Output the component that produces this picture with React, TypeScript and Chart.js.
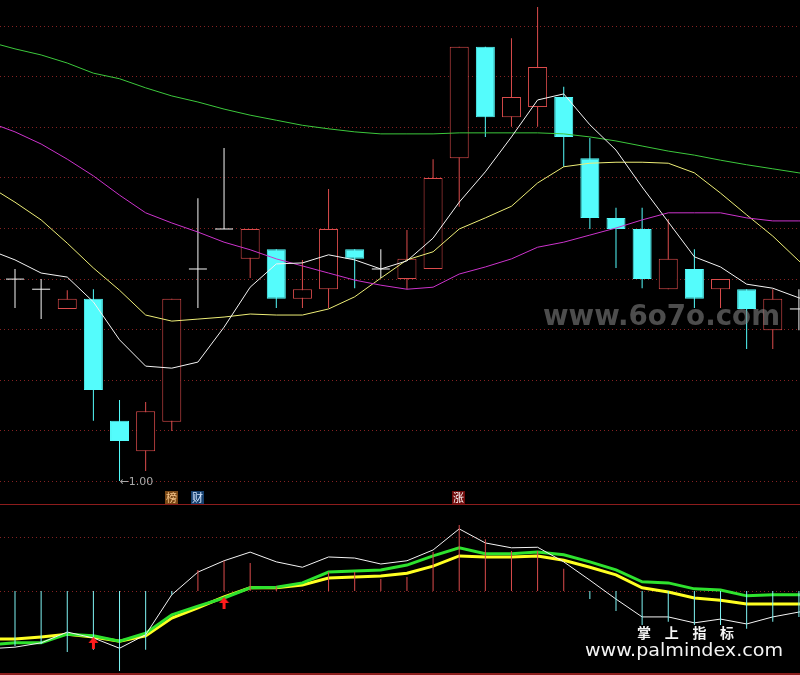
import { useEffect, useRef } from "react";
import { Chart, registerables } from "chart.js";

Chart.register(...registerables);

// ---------- daily candles (session 0 = first visible) ----------
const OPEN = [1.399, 1.379, 1.340, 1.360, 1.119, 1.059, 1.117, 1.419, 1.498, 1.439, 1.458, 1.360, 1.379, 1.458, 1.419, 1.399, 1.419, 1.638, 1.858, 1.719, 1.739, 1.759, 1.638, 1.520, 1.498, 1.379, 1.419, 1.379, 1.379, 1.298, 1.340];
const HIGH = [1.419, 1.399, 1.377, 1.379, 1.160, 1.156, 1.360, 1.559, 1.658, 1.498, 1.458, 1.437, 1.577, 1.458, 1.458, 1.496, 1.636, 1.858, 1.858, 1.875, 1.937, 1.779, 1.678, 1.540, 1.540, 1.518, 1.458, 1.399, 1.379, 1.379, 1.379];
const LOW = [1.342, 1.320, 1.340, 1.119, 1.000, 1.020, 1.099, 1.342, 1.498, 1.401, 1.342, 1.342, 1.342, 1.381, 1.401, 1.379, 1.419, 1.542, 1.680, 1.700, 1.700, 1.621, 1.498, 1.421, 1.381, 1.379, 1.342, 1.342, 1.261, 1.261, 1.298];
const CLOSE = [1.399, 1.379, 1.360, 1.180, 1.079, 1.138, 1.360, 1.419, 1.498, 1.498, 1.360, 1.379, 1.498, 1.439, 1.419, 1.439, 1.599, 1.858, 1.719, 1.759, 1.818, 1.680, 1.520, 1.498, 1.399, 1.439, 1.360, 1.399, 1.340, 1.360, 1.340];

// ---------- moving averages: sessions -1 .. 31 ----------
const MA_FIRST = -1;
const MA5 = [1.457, 1.437, 1.411, 1.403, 1.354, 1.279, 1.227, 1.223, 1.235, 1.304, 1.383, 1.429, 1.431, 1.447, 1.437, 1.419, 1.435, 1.480, 1.551, 1.611, 1.680, 1.753, 1.765, 1.704, 1.654, 1.581, 1.512, 1.443, 1.423, 1.389, 1.381, 1.362, 1.348];
const MA10 = [1.583, 1.551, 1.516, 1.470, 1.421, 1.377, 1.328, 1.316, 1.320, 1.324, 1.330, 1.328, 1.328, 1.340, 1.364, 1.401, 1.437, 1.453, 1.498, 1.520, 1.543, 1.589, 1.621, 1.628, 1.630, 1.630, 1.628, 1.609, 1.569, 1.526, 1.484, 1.435, 1.391];
const MA30 = [1.709, 1.690, 1.666, 1.636, 1.603, 1.565, 1.530, 1.510, 1.492, 1.472, 1.457, 1.439, 1.425, 1.411, 1.397, 1.387, 1.379, 1.383, 1.409, 1.423, 1.439, 1.462, 1.472, 1.486, 1.500, 1.516, 1.530, 1.530, 1.530, 1.520, 1.514, 1.514, 1.514];
const MA60 = [1.868, 1.854, 1.842, 1.826, 1.806, 1.795, 1.777, 1.761, 1.749, 1.735, 1.723, 1.713, 1.703, 1.696, 1.690, 1.686, 1.686, 1.686, 1.688, 1.688, 1.688, 1.688, 1.686, 1.680, 1.672, 1.662, 1.652, 1.644, 1.634, 1.625, 1.617, 1.609, 1.601];

// ---------- lower indicator ----------
const OSC_BAR = [-10.2, -9.8, -11.3, -10.9, -14.8, -10.9, -0.7, 3.9, 5.6, 5.2, 0.9, 0.2, 3.5, 3.5, 2.2, 2.6, 7.2, 12.2, 9.6, 7.4, 7.4, 4.1, -1.5, -3.7, -6.3, -5.7, -6.3, -6.3, -7.0, -5.7, -4.8];
// sessions -1 .. 31
const OSC_FAST = [-10.7, -10.4, -9.6, -7.6, -8.7, -10.6, -8.1, -0.7, 3.5, 5.6, 7.2, 5.4, 4.4, 6.3, 6.1, 5.0, 5.6, 7.6, 11.5, 8.9, 8.0, 8.1, 5.4, 2.0, -1.5, -4.8, -4.8, -5.9, -5.2, -6.1, -4.8, -3.9, -3.0];
const OSC_MID = [-10.0, -9.6, -9.6, -8.0, -8.3, -9.3, -7.8, -4.4, -2.8, -1.3, 0.6, 0.7, 1.5, 3.5, 3.7, 3.9, 4.8, 6.5, 8.0, 6.9, 6.9, 7.2, 6.7, 5.4, 3.9, 1.7, 1.5, 0.4, 0.2, -0.9, -0.7, -0.7, -0.7];
const OSC_SLOW = [-8.9, -8.9, -8.5, -8.0, -8.5, -9.3, -8.3, -5.0, -3.1, -1.1, 0.6, 0.6, 1.1, 2.4, 2.6, 2.8, 3.3, 4.6, 6.5, 6.3, 6.3, 6.5, 5.7, 4.4, 3.0, 0.6, -0.2, -1.3, -1.7, -2.4, -2.4, -2.4, -2.4];
const BUY_AT = [3, 8];

// ---------- event tags under the candles ----------
const TAG_TEXT = ["榜", "财", "涨"];
const TAG_AT = [6, 7, 17];

const PRICE_GRID = [1.0, 1.1, 1.2, 1.3, 1.4, 1.5, 1.6, 1.7, 1.8, 1.9];
const OSC_GRID = [0, 10];

const SITE_MARK = "www.6o7o.com";
const BRAND_TITLE = "掌 上 指 标";
const BRAND_URL = "www.palmindex.com";

// ---------- view / style ----------
const X_MIN = -0.574;
const X_MAX = 30.042;
const PRICE_MIN = 0.95455;
const PRICE_MAX = 1.95059;
const OSC_MIN = -15.556;
const OSC_MAX = 15.926;

const RED = "#dc4c4c";
const CYAN = "#54fcfc";
const WHITE = "#f6f6f6";
const GRID = "#842222";
const TAG_BG = ["#7a4816", "#16406e", "#700c0c"];
const TAG_FG = ["#f5c48a", "#d4e6ff", "#ffffff"];

const maSeries = (arr: number[]) => arr.map((v, i) => ({ x: i + MA_FIRST, y: v }));

function dottedGrid(levels: number[]) {
  return {
    id: "dottedGrid",
    beforeDatasetsDraw(chart: any) {
      const { ctx, chartArea } = chart;
      const y = chart.scales.y;
      ctx.save();
      ctx.strokeStyle = GRID;
      ctx.lineWidth = 1;
      ctx.setLineDash([1, 3]);
      for (const v of levels) {
        const py = Math.round(y.getPixelForValue(v)) + 0.5;
        ctx.beginPath();
        ctx.moveTo(chartArea.left, py);
        ctx.lineTo(chartArea.right, py);
        ctx.stroke();
      }
      ctx.restore();
    },
  };
}

const priceOverlay = {
  id: "priceOverlay",
  afterDatasetsDraw(chart: any) {
    const { ctx, chartArea } = chart;
    const xs = chart.scales.x;
    const ys = chart.scales.y;
    ctx.save();

    // lowest low marker
    let lo = 0;
    LOW.forEach((v, i) => {
      if (v < LOW[lo]) lo = i;
    });
    ctx.font = '11px "DejaVu Sans", sans-serif';
    ctx.fillStyle = "#a8a8a8";
    ctx.textBaseline = "middle";
    ctx.textAlign = "left";
    ctx.fillText("\u2190" + LOW[lo].toFixed(2), xs.getPixelForValue(lo), ys.getPixelForValue(LOW[lo]) + 1);

    // event tags
    ctx.font = '11px "Noto Sans CJK SC", sans-serif';
    ctx.textAlign = "center";
    TAG_AT.forEach((at, k) => {
      const cx = Math.round(xs.getPixelForValue(at));
      const top = chartArea.bottom - 13;
      ctx.fillStyle = TAG_BG[k];
      ctx.fillRect(cx - 7, top, 13, 13);
      ctx.fillStyle = TAG_FG[k];
      ctx.fillText(TAG_TEXT[k], cx - 0.5, top + 7);
    });

    // site mark
    ctx.font = 'bold 28px "DejaVu Sans", sans-serif';
    ctx.textAlign = "left";
    ctx.textBaseline = "alphabetic";
    ctx.fillStyle = "rgba(128,128,128,0.6)";
    const w = ctx.measureText(SITE_MARK).width;
    ctx.translate(543, 325);
    ctx.scale(237 / w, 1);
    ctx.fillText(SITE_MARK, 0, 0);
    ctx.restore();
  },
};

const brandOverlay = {
  id: "brandOverlay",
  afterDatasetsDraw(chart: any) {
    const { ctx } = chart;
    ctx.save();
    ctx.fillStyle = "#f4f4f4";
    ctx.textAlign = "left";
    ctx.textBaseline = "middle";
    ctx.font = 'bold 14px "Noto Sans CJK SC", sans-serif';
    const step = 27.7;
    if ("letterSpacing" in ctx) {
      const pair = ctx.measureText(BRAND_TITLE.slice(0, 2)).width;
      ctx.letterSpacing = (step - pair) / 2 + "px";
      ctx.fillText(BRAND_TITLE, 637, 128);
      ctx.letterSpacing = "0px";
    } else {
      BRAND_TITLE.split(" ").forEach((ch, i) => ctx.fillText(ch, 637 + i * step, 128));
    }
    ctx.font = '17px "DejaVu Sans", sans-serif';
    ctx.textBaseline = "alphabetic";
    const w = ctx.measureText(BRAND_URL).width;
    ctx.translate(585, 151);
    ctx.scale(198 / w, 1);
    ctx.fillText(BRAND_URL, 0, 0);
    ctx.restore();
  },
};

function makeArrow(): HTMLCanvasElement {
  const c = document.createElement("canvas");
  c.width = 11;
  c.height = 26;
  const g = c.getContext("2d")!;
  g.fillStyle = "#ff1c1c";
  g.beginPath();
  g.moveTo(5.5, 13);
  g.lineTo(10.5, 19);
  g.lineTo(0.5, 19);
  g.closePath();
  g.fill();
  g.fillRect(4, 19, 3, 6);
  return c;
}

const hiddenX = { type: "linear", min: X_MIN, max: X_MAX, display: false, offset: false };
const baseOptions = {
  responsive: false,
  maintainAspectRatio: false,
  animation: false,
  events: [],
  layout: { padding: 0, autoPadding: false },
  plugins: { legend: { display: false }, tooltip: { enabled: false } },
};

export default function App() {
  const topRef = useRef<HTMLCanvasElement>(null);
  const botRef = useRef<HTMLCanvasElement>(null);

  useEffect(() => {
    document.body.style.margin = "0";
    document.body.style.background = "#000";

    const idx = OPEN.map((_, i) => i);
    const dir = idx.map((i) => (CLOSE[i] > OPEN[i] ? 1 : CLOSE[i] < OPEN[i] ? -1 : 0));
    const tone = (d: number) => (d > 0 ? RED : d < 0 ? CYAN : WHITE);
    const bodyIdx = idx.filter((i) => dir[i] !== 0);
    const dojiIdx = idx.filter((i) => dir[i] === 0);

    const top = new Chart(topRef.current!, {
      type: "bar",
      data: {
        datasets: [
          {
            type: "bar",
            data: idx.map((i) => ({ x: i, y: [LOW[i], HIGH[i]] })),
            backgroundColor: idx.map((i) => tone(dir[i])),
            borderWidth: 0,
            barThickness: 1,
            grouped: false,
            inflateAmount: 0,
            order: 10,
          },
          {
            type: "bar",
            data: bodyIdx.map((i) => ({ x: i, y: [OPEN[i], CLOSE[i]] })),
            backgroundColor: bodyIdx.map((i) => (dir[i] > 0 ? "#000000" : CYAN)),
            borderColor: bodyIdx.map((i) => tone(dir[i])),
            borderWidth: 1,
            borderSkipped: false,
            barThickness: 19,
            grouped: false,
            inflateAmount: 0,
            order: 9,
          },
          {
            type: "line",
            data: dojiIdx.map((i) => ({ x: i, y: OPEN[i] })),
            showLine: false,
            pointStyle: "line",
            pointRadius: 9,
            pointBorderColor: WHITE,
            pointBorderWidth: 1,
            order: 8,
          },
          { type: "line", data: maSeries(MA10), borderColor: "#eeee77", borderWidth: 1, pointRadius: 0, tension: 0, order: 4 },
          { type: "line", data: maSeries(MA30), borderColor: "#cc33cc", borderWidth: 1, pointRadius: 0, tension: 0, order: 3 },
          { type: "line", data: maSeries(MA60), borderColor: "#3cc83c", borderWidth: 1, pointRadius: 0, tension: 0, order: 2 },
          { type: "line", data: maSeries(MA5), borderColor: "#f4f4f4", borderWidth: 1, pointRadius: 0, tension: 0, order: 1 },
        ],
      } as any,
      options: {
        ...baseOptions,
        scales: {
          x: hiddenX,
          y: { type: "linear", min: PRICE_MIN, max: PRICE_MAX, display: false, beginAtZero: false },
        },
      } as any,
      plugins: [dottedGrid(PRICE_GRID), priceOverlay],
    });

    const arrow = makeArrow();
    const bot = new Chart(botRef.current!, {
      type: "bar",
      data: {
        datasets: [
          { type: "line", data: maSeries(OSC_SLOW), borderColor: "#ffff22", borderWidth: 3, pointRadius: 0, tension: 0, order: 5 },
          { type: "line", data: maSeries(OSC_MID), borderColor: "#2ee22e", borderWidth: 3, pointRadius: 0, tension: 0, order: 4 },
          { type: "line", data: maSeries(OSC_FAST), borderColor: "#f4f4f4", borderWidth: 1, pointRadius: 0, tension: 0, order: 3 },
          {
            type: "bar",
            data: OSC_BAR.map((v, i) => ({ x: i, y: [0, v] })),
            backgroundColor: OSC_BAR.map((v) => (v >= 0 ? RED : "#7ff4f4")),
            borderWidth: 0,
            barThickness: 1,
            grouped: false,
            inflateAmount: 0,
            order: 2,
          },
          {
            type: "line",
            data: BUY_AT.map((i) => ({ x: i, y: OSC_SLOW[i - MA_FIRST] })),
            showLine: false,
            pointStyle: arrow,
            pointRadius: 6,
            order: 1,
          },
        ],
      } as any,
      options: {
        ...baseOptions,
        scales: {
          x: hiddenX,
          y: { type: "linear", min: OSC_MIN, max: OSC_MAX, display: false, beginAtZero: false },
        },
      } as any,
      plugins: [dottedGrid(OSC_GRID), brandOverlay],
    });

    return () => {
      top.destroy();
      bot.destroy();
    };
  }, []);

  return (
    <div style={{ position: "fixed", left: 0, top: 0, width: 800, height: 675, background: "#000", overflow: "hidden" }}>
      <canvas ref={topRef} width={800} height={504} style={{ position: "absolute", left: 0, top: 0, display: "block" }} />
      <div style={{ position: "absolute", left: 0, top: 504, width: 800, height: 1, background: "#8c1c1c" }} />
      <canvas ref={botRef} width={800} height={170} style={{ position: "absolute", left: 0, top: 505, display: "block" }} />
      <div style={{ position: "absolute", left: 0, top: 673, width: 800, height: 2, background: "#8c1c1c" }} />
    </div>
  );
}
